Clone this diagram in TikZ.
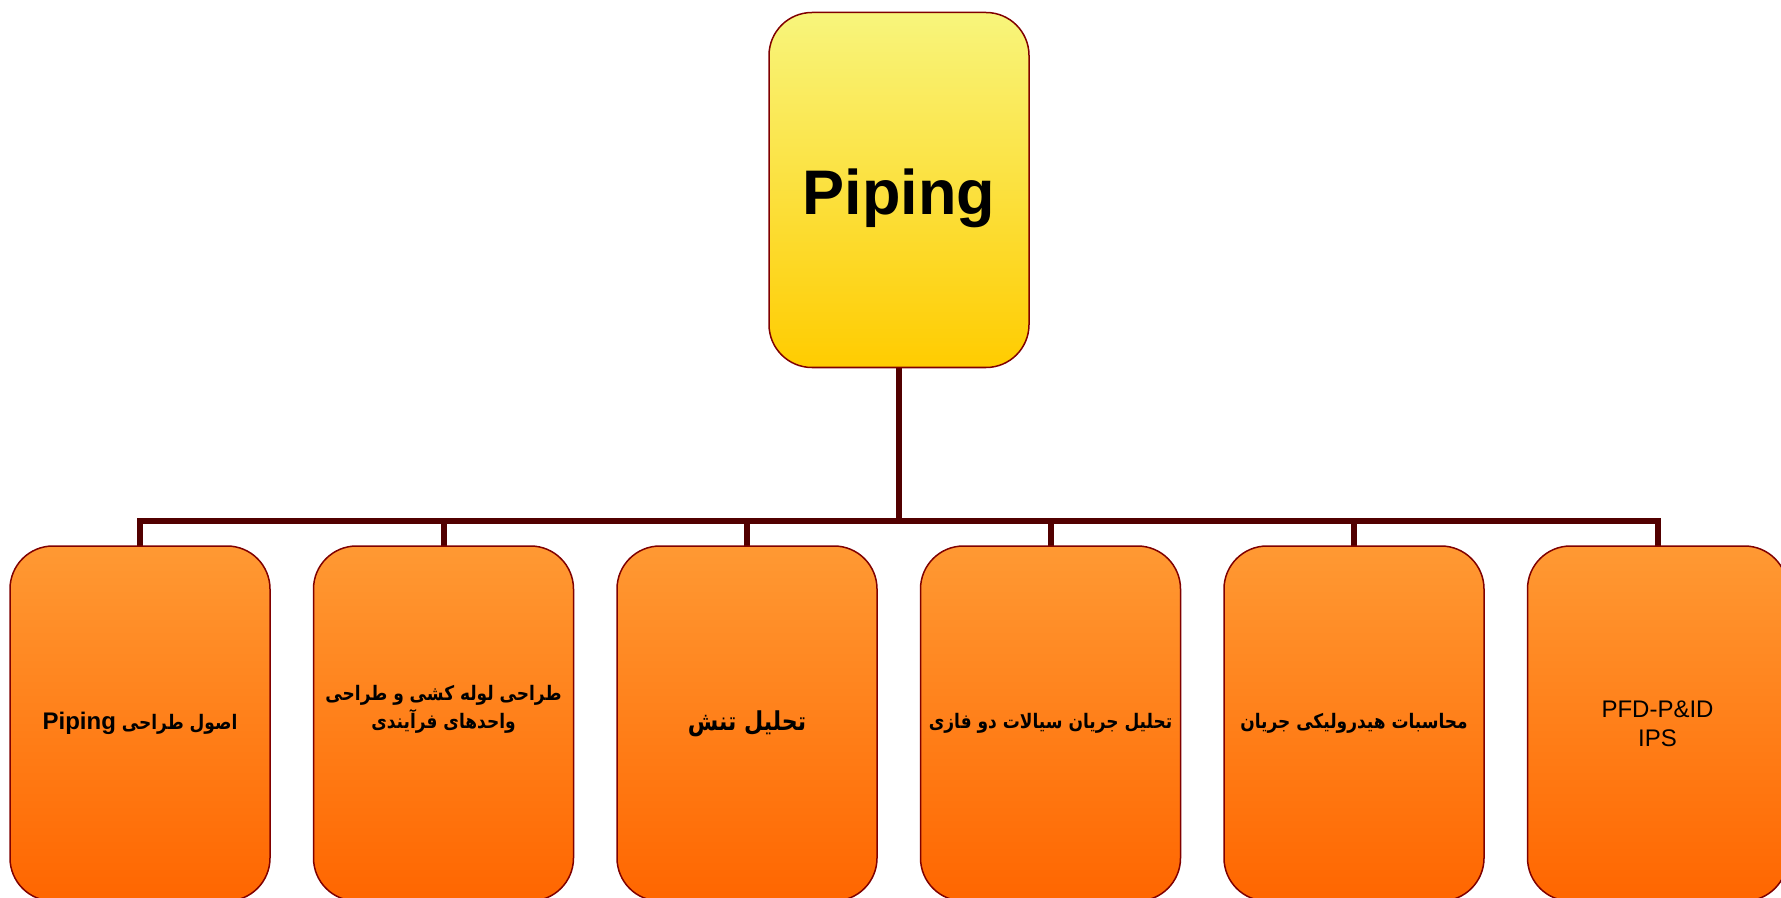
\documentclass[tikz,border=0pt]{standalone}
\usepackage{fontspec}
\setmainfont{Liberation Sans}
\newfontfamily\farsi[Script=Arabic, FakeStretch=0.85]{DejaVu Sans}
\TeXXeTstate=1
\definecolor{rootTop}{HTML}{F8F57C}
\definecolor{rootBottom}{HTML}{FFCC00}
\definecolor{leafTop}{HTML}{FF9933}
\definecolor{leafBottom}{HTML}{FF6600}
\definecolor{boxEdge}{HTML}{800000}
\definecolor{linkColor}{HTML}{520000}

\begin{document}
\begin{tikzpicture}[x=0.5pt, y=-0.5pt]

    \tikzset{%
        box/.style={draw=boxEdge, line width=0.75pt, rounded corners=21.5pt,
                minimum width=130pt, minimum height=177.5pt, inner sep=2pt,
                align=center},
        rootbox/.style={box, top color=rootTop, bottom color=rootBottom,
                text height=31.6pt, text depth=6.6pt,
                font=\bfseries\fontsize{31.5}{36}\selectfont},
        leafbox/.style={box, top color=leafTop, bottom color=leafBottom,
                font=\farsi\bfseries\fontsize{10}{14}\selectfont},
        link/.style={draw=linkColor, line width=3pt}
    }

    \useasboundingbox (0, 0) rectangle (1781, 898);
    \clip (0, 0) rectangle (1781, 898);

    \coordinate (bus) at (899, 521);

    \foreach \i in {1, ..., 6} {%
            \draw [link] (bus) -| ({140+(\i-1)*303.5}, 546);
        }
    \draw [link] (899, 368) -- (bus);

    \node [rootbox] (root) at (899, 190) {Piping};

    \node [leafbox] (c1) at (140, 723.5) {\beginR اصول طراحی \beginL{\normalfont\bfseries\fontsize{12}{13}\selectfont Piping}\endL{}\endR};
    \node [leafbox, text depth=17pt] (c2) at (443.5, 723.5) {\beginR طراحی لوله کشی و طراحی\endR\\\beginR واحدهای فرآیندی\endR};
    \node [leafbox, font=\farsi\bfseries\fontsize{13}{16}\selectfont] (c3) at (747, 723.5) {\beginR تحلیل تنش\endR};
    \node [leafbox] (c4) at (1050.5, 723.5) {\beginR تحلیل جریان سیالات دو فازی\endR};
    \node [leafbox] (c5) at (1354, 723.5) {\beginR محاسبات هیدرولیکی جریان\endR};
    \node [leafbox, font=\normalfont\fontsize{12}{14.5}\selectfont] (c6) at (1657.5, 723.5) {PFD-P\&ID\\IPS};

\end{tikzpicture}
\end{document}
